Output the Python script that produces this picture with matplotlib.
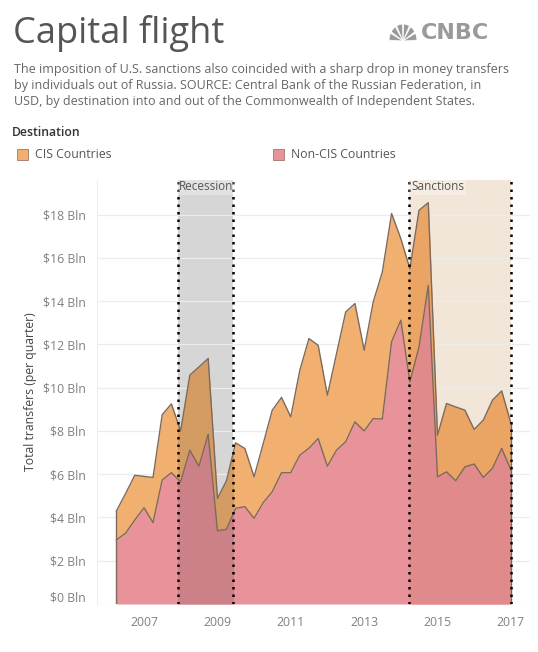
import numpy as np
import pandas as pd
import matplotlib
matplotlib.use("Agg")
import matplotlib.pyplot as plt
import matplotlib.dates as mdates
from matplotlib.patches import Wedge, Rectangle

# quarterly data, $ billions
quarters = pd.date_range("2006-04-01", periods=44, freq="QS")
non_cis = [2.96, 3.27, 3.88, 4.45, 3.76, 5.73, 6.07, 5.65, 7.11, 6.37, 7.85,
           3.39, 3.45, 4.42, 4.50, 3.96, 4.68, 5.19, 6.07, 6.07, 6.88, 7.20,
           7.65, 6.37, 7.11, 7.50, 8.42, 8.00, 8.57, 8.55, 12.12, 13.12,
           10.27, 11.88, 14.73, 5.88, 6.11, 5.70, 6.34, 6.47, 5.85, 6.27,
           7.19, 6.20]
cis = [1.34, 1.83, 2.07, 1.45, 2.09, 3.02, 3.18, 2.35, 3.47, 4.59, 3.50,
       1.49, 2.25, 3.03, 2.69, 1.92, 2.72, 3.77, 3.48, 2.58, 3.92, 5.07,
       4.31, 3.28, 4.47, 6.00, 5.47, 3.73, 5.39, 6.80, 5.93, 3.77,
       5.23, 6.32, 3.82, 1.92, 3.16, 3.41, 2.62, 1.60, 2.65, 3.15,
       2.66, 2.15]
recession = ("2007-12-01", "2009-06-10")
sanctions = ("2014-03-25", "2017-01-01")
yticks = [0, 2, 4, 6, 8, 10, 12, 14, 16, 18]
xyears = [2007, 2009, 2011, 2013, 2015, 2017]

plt.rcParams['font.family'] = ['Open Sans', 'DejaVu Sans']

c_cis = "#f1b070"
c_non = "#e8939a"
edge = "#7d6a5c"


def tint(hexcol, f):
    r, g, b = matplotlib.colors.to_rgb(hexcol)
    return (r*f[0], g*f[1], b*f[2])


fig = plt.figure(figsize=(5.38, 6.52), dpi=100)
ax = fig.add_axes([97/538, 1-604/652, 433/538, 424/652])

x = mdates.date2num(quarters)
mid = np.array(non_cis)
hi = mid + np.array(cis)
ax.fill_between(x, 0, mid, color=c_non, lw=0, zorder=2)
ax.fill_between(x, mid, hi, color=c_cis, lw=0, zorder=2)

# bands: background colour behind, multiplied colour over the areas
bands = [(recession, "#d6d6d6", (0.88, 0.88, 0.88), "Recession"),
         (sanctions, "#f1e6d8", (0.97, 0.94, 0.90), "Sanctions")]
for (a, b), col, f, name in bands:
    a, b = mdates.datestr2num(a), mdates.datestr2num(b)
    ax.axvspan(a, b, color=col, lw=0, zorder=1)
    clip = Rectangle((a, 0), b - a, 30, transform=ax.transData)
    p1 = ax.fill_between(x, 0, mid, color=tint(c_non, f), lw=0, zorder=2.5)
    p2 = ax.fill_between(x, mid, hi, color=tint(c_cis, f), lw=0, zorder=2.5)
    p1.set_clip_path(clip)
    p2.set_clip_path(clip)
    for v in (a, b):
        ax.axvline(v, color="black", ls=(0, (1, 2)), lw=1.8, zorder=5)
    ax.text(a + 18, 19.3, name, fontsize=8.5, color="#555555", va="center",
            ha="left", zorder=6,
            bbox=dict(facecolor="white", alpha=0.3, edgecolor="none", pad=1.5))

ax.plot(x, mid, color=edge, lw=1, zorder=3)
ax.plot(x, hi, color=edge, lw=1, zorder=3)
ax.plot([x[0], x[0]], [0, hi[0]], color=edge, lw=1, zorder=3)
ax.plot([x[-1], x[-1]], [0, hi[-1]], color=edge, lw=1, zorder=3)

ax.set_ylim(0, 19.6)
ax.set_xlim(mdates.datestr2num("2005-09-20"), mdates.datestr2num("2017-07-10"))
ax.set_yticks(yticks)
ax.set_yticklabels([f"${v} Bln" for v in yticks])
for lab in ax.get_yticklabels():
    if lab.get_text() == "$0 Bln":
        lab.set_va("bottom")
ax.set_xticks([mdates.datestr2num(f"{y}-01-01") for y in xyears])
ax.set_xticklabels([str(y) for y in xyears])
ax.tick_params(length=0, labelsize=8.8, labelcolor="#808080")
ax.tick_params(axis="y", pad=8)
ax.tick_params(axis="x", pad=9)
ax.grid(axis="y", color="#ececec", lw=0.9, zorder=0)
for s in ["top", "right", "bottom"]:
    ax.spines[s].set_visible(False)
ax.spines["left"].set_color("#eeeeee")
ax.set_ylabel("Total transfers (per quarter)", fontsize=8.8, color="#444444",
              labelpad=4)

# header text
fig.text(13/538, 1-34/652, "Capital flight", fontsize=26, color="#555555",
         va="center")
sub = ("The imposition of U.S. sanctions also coincided with a sharp drop in money transfers\n"
       "by individuals out of Russia. SOURCE: Central Bank of the Russian Federation, in\n"
       "USD, by destination into and out of the Commonwealth of Independent States.")
fig.text(14/538, 1-63/652, sub, fontsize=9, color="#666666", va="top",
         linespacing=1.3)
fig.text(12/538, 1-133/652, "Destination", fontsize=8.8, color="#333333",
         va="center", fontweight="semibold")
for px, col, name in [(17, c_cis, "CIS Countries"), (273, c_non, "Non-CIS Countries")]:
    fig.patches.append(Rectangle((px/538, 1-160/652), 11/538, 11/652,
                                 transform=fig.transFigure, facecolor=col,
                                 edgecolor="#9a7a6a", lw=0.6))
    fig.text((px+18)/538, 1-154/652, name, fontsize=8.8, color="#555555",
             va="center")

# CNBC mark
fig.text(421/538, 1-33/652, "CNBC", fontsize=16, color="#9a9a9a",
         fontweight="bold", va="center", family="DejaVu Sans")
cx, cy = 403, 41
for k in range(6):
    th1 = 180 - k*30
    fig.patches.append(Wedge((cx/538, 1-cy/652), 0.026, th1-27, th1-3,
                             transform=fig.transFigure, facecolor="#9a9a9a",
                             edgecolor="white", lw=0.5))

fig.savefig("out.png", dpi=100)
